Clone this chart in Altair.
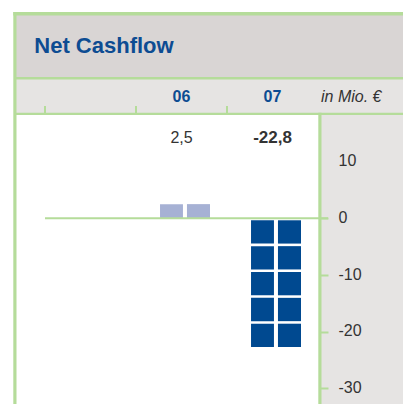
import math
import altair as alt
import pandas as pd

# ---- data ----
years = ["06", "07"]
values = [2.5, -22.8]
value_labels = ["2,5", "-22,8"]
col_index = [1, 2]            # column slot of each year
y_ticks = [10, 0, -10, -20, -30]
title_text = "Net Cashflow"
unit_text = "in Mio. €"

# ---- style ----
GREEN = "#b5dc9a"
BAND1 = "#d9d5d4"
BAND2 = "#e6e4e3"
BLUE = "#0d4c92"
DARK = "#004990"
LIGHT = "#a6b1d4"
TXT = "#333333"
FONT = "Liberation Sans"

W, H = 312, 396
RP = 83                      # right padding (axis panel)
FULLW = W + RP
xdom = [-37 / 91, 275 / 91]
ydom = [-(H - 210.3) / 5.67, 210.3 / 5.67]

xs = alt.Scale(domain=xdom, nice=False, zero=False)
ys = alt.Scale(domain=ydom, nice=False, zero=False)

# per-year table
cols = pd.DataFrame({"year": years, "value": values, "label": value_labels,
                     "c": [i + 0.5 for i in col_index]})

# pictogram squares built from the values
rows = []
for yr, v, c in zip(years, values, cols["c"]):
    n = max(1, math.ceil(abs(v) / 5))
    step = abs(v) / n
    s = 1 if v >= 0 else -1
    g1 = 0.0 if v >= 0 else 0.35
    g2 = 0.0 if v >= 0 else 0.1
    for i in range(n):
        y0 = s * (i * step + g1)
        y1 = s * ((i + 1) * step - g2)
        for a, b in [(-0.236, 0.016), (0.06, 0.313)]:
            rows.append({"year": yr, "x": c + a, "x2": c + b, "y": y0, "y2": y1})
sq = pd.DataFrame(rows)

one = pd.DataFrame({"k": [0]})


def box(x, x2, y, y2, color):
    return alt.Chart(one).mark_rect(color=color, strokeWidth=0).encode(
        x=alt.value(x), x2=alt.value(x2), y=alt.value(y), y2=alt.value(y2))


layers = [
    box(8, FULLW, 7, 69, BAND1),          # title band
    box(8, FULLW, 71, 105, BAND2),        # header band
    box(8, 311, 106, H, "white"),         # plot area
    box(312, FULLW, 106, H, BAND2),       # right axis panel
    box(5.3, 8.5, 4, H, GREEN),           # left border
    box(5.3, FULLW, 4, 7.5, GREEN),       # top border
    box(8, FULLW, 69, 71.5, GREEN),       # title separator
    box(8, FULLW, 104.7, 107, GREEN),     # header bottom line
    box(310.3, 313.5, 104.7, H, GREEN),   # right panel line
]

# header ticks on column boundaries
bounds = pd.DataFrame({"b": [0, 1, 2]})
layers.append(alt.Chart(bounds).mark_rule(color=GREEN, strokeWidth=2).encode(
    x=alt.X("b:Q", scale=xs, axis=None), y=alt.value(98), y2=alt.value(105)))

# squares
layers.append(alt.Chart(sq).mark_rect(strokeWidth=0).encode(
    x=alt.X("x:Q", scale=xs, axis=None), x2="x2:Q",
    y=alt.Y("y:Q", scale=ys, axis=alt.Axis(
        orient="right", values=y_ticks, title=None, grid=False, domain=False,
        tickColor=GREEN, tickWidth=2, tickSize=8, zindex=1,
        tickOpacity={"condition": {"test": "datum.value > 0", "value": 0}, "value": 1},
        labelExpr="toString(datum.value)", labelOffset=-1,
        labelFont=FONT, labelFontSize=16, labelColor=TXT, labelPadding=10,
        labelAlign="left")),
    y2="y2:Q",
    color=alt.Color("year:N", scale=alt.Scale(domain=years, range=[LIGHT, DARK]), legend=None)))

# zero line
zero = pd.DataFrame({"x": [0], "y": [0]})
layers.append(alt.Chart(zero).mark_rule(color=GREEN, strokeWidth=2).encode(
    x=alt.X("x:Q", scale=xs, axis=None), x2=alt.value(320),
    y=alt.Y("y:Q", scale=ys)))

# header year labels
layers.append(alt.Chart(cols).mark_text(font=FONT, fontSize=16, fontWeight="bold",
                                        color=BLUE, baseline="middle").encode(
    x=alt.X("c:Q", scale=xs, axis=None), y=alt.value(89), text="year:N"))

# value labels
layers.append(alt.Chart(cols).transform_filter("datum.year != '07'").mark_text(
    font=FONT, fontSize=16, color=TXT, baseline="middle").encode(
    x=alt.X("c:Q", scale=xs, axis=None), y=alt.value(130), text="label:N"))
layers.append(alt.Chart(cols).transform_filter("datum.year == '07'").mark_text(
    font=FONT, fontSize=17, fontWeight="bold", color=TXT, baseline="middle").encode(
    x=alt.X("c:Q", scale=xs, axis=None), y=alt.value(130), text="label:N"))

# title & unit
t = pd.DataFrame({"t": [title_text]})
layers.append(alt.Chart(t).mark_text(font=FONT, fontSize=22, fontWeight="bold",
                                     color=BLUE, align="left", baseline="alphabetic").encode(
    x=alt.value(26.3), y=alt.value(44.5), text="t:N"))
u = pd.DataFrame({"t": [unit_text]})
layers.append(alt.Chart(u).mark_text(font=FONT, fontSize=16, fontStyle="italic",
                                     color=TXT, align="left", baseline="middle").encode(
    x=alt.value(313), y=alt.value(89), text="t:N"))

chart = alt.layer(*layers).properties(
    width=W, height=H, autosize=alt.AutoSizeParams(type="none"),
    padding={"left": 0, "top": 0, "right": RP, "bottom": 0},
    background="white",
).configure_view(stroke=None)

chart.save("out.html", embed_options={"renderer": "svg", "actions": False})
